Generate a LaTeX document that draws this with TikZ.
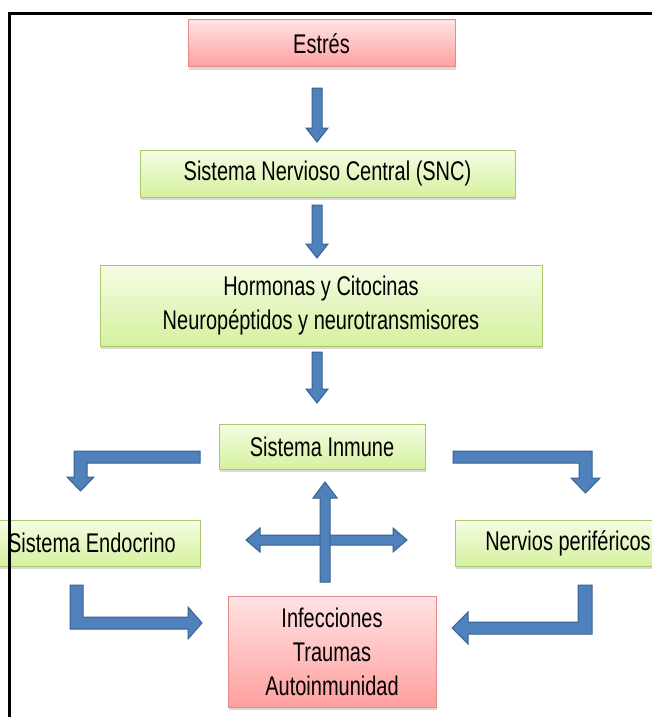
\documentclass[tikz,border=0pt]{standalone}
\usepackage{fontspec}
\setmainfont[FakeStretch=0.74]{Liberation Sans}
\usetikzlibrary{shadows}
\definecolor{pinktop}{HTML}{FFE3E3}
\definecolor{pinkbot}{HTML}{FF9F9F}
\definecolor{pinkedge}{HTML}{E38B8A}
\definecolor{greentop}{HTML}{F5FDE4}
\definecolor{greenbot}{HTML}{D5F19F}
\definecolor{greenedge}{HTML}{A8CA6A}
\definecolor{arrowblue}{HTML}{4F81BD}
\definecolor{arrowedge}{HTML}{3A6190}
\begin{document}
\begin{tikzpicture}[x=1pt,y=-1pt]
	    \tikzset{box/.style={rectangle, line width=1pt, align=center, inner sep=0pt,
	        font=\fontsize{27}{34}\selectfont,
	        drop shadow={shadow xshift=1pt, shadow yshift=-3pt, opacity=0.3}}}
	    \tikzset{pinkbox/.style={box, draw=pinkedge, top color=pinktop, bottom color=pinkbot}}
	    \tikzset{greenbox/.style={box, draw=greenedge, top color=greentop, bottom color=greenbot}}
	    \tikzset{blockarrow/.style={fill=arrowblue, draw=arrowedge, line width=1pt, line join=miter}}
	    \useasboundingbox (0,0) rectangle (652,717);
	    \node (estres) [pinkbox, minimum width=267pt, minimum height=47pt] at (321.5,43.5) {Estrés};
	    \node (snc) [greenbox, minimum width=375pt, minimum height=47pt] at (327.5,173.5) {Sistema Nervioso Central (SNC)};
	    \node (hormonas) [greenbox, minimum width=442pt, minimum height=81pt] at (321,305.5) {Hormonas y Citocinas\\Neuropéptidos y neurotransmisores};
	    \node (inmune) [greenbox, minimum width=206pt, minimum height=45pt] at (322,446.5) {Sistema Inmune};
	    \node (endocrino) [greenbox, minimum width=216pt, minimum height=46pt] at (92,543) {Sistema Endocrino};
	    \node (nervios) [greenbox, minimum width=226pt, minimum height=46pt] at (568,543) {Nervios periféricos};
	    \node (infecciones) [pinkbox, minimum width=208pt, minimum height=111pt] at (332,651.5) {Infecciones\\Traumas\\Autoinmunidad};
	    % flechas hacia abajo
	    \draw [blockarrow] (312,88) -- (322,88) -- (322,128) -- (328,128) -- (317,142) -- (306,128) -- (312,128) -- cycle;
	    \draw [blockarrow] (312,205) -- (322,205) -- (322,244) -- (328,244) -- (317,258) -- (306,244) -- (312,244) -- cycle;
	    \draw [blockarrow] (312,352) -- (322,352) -- (322,389) -- (328,389) -- (317,403) -- (306,389) -- (312,389) -- cycle;
	    % flechas dobladas
	    \draw [blockarrow] (200,451) -- (74,451) -- (74,477) -- (67,477) -- (80.5,491) -- (94,477) -- (87,477) -- (87,463) -- (200,463) -- cycle;
	    \draw [blockarrow] (453,451) -- (592,451) -- (592,478) -- (600,478) -- (585.5,493) -- (571,478) -- (579,478) -- (579,463) -- (453,463) -- cycle;
	    \draw [blockarrow] (70,585) -- (83,585) -- (83,617) -- (188,617) -- (188,607) -- (202,623) -- (188,639) -- (188,629) -- (70,629) -- cycle;
	    \draw [blockarrow] (592,585) -- (592,634) -- (468,634) -- (468,644) -- (452,628) -- (468,612) -- (468,622) -- (578,622) -- (578,585) -- cycle;
	    % cruz
	    \draw [blockarrow] (246,540) -- (260,528) -- (260,535) -- (393,535) -- (393,528) -- (407,540) -- (393,552) -- (393,545) -- (260,545) -- (260,552) -- cycle;
	    \draw [blockarrow] (320,582) -- (330,582) -- (330,498) -- (337,498) -- (325,482) -- (313,498) -- (320,498) -- cycle;
	    % marco
	    \draw [line width=3pt] (9,717) -- (9,14) -- (652,14);
	\end{tikzpicture}
\end{document}
